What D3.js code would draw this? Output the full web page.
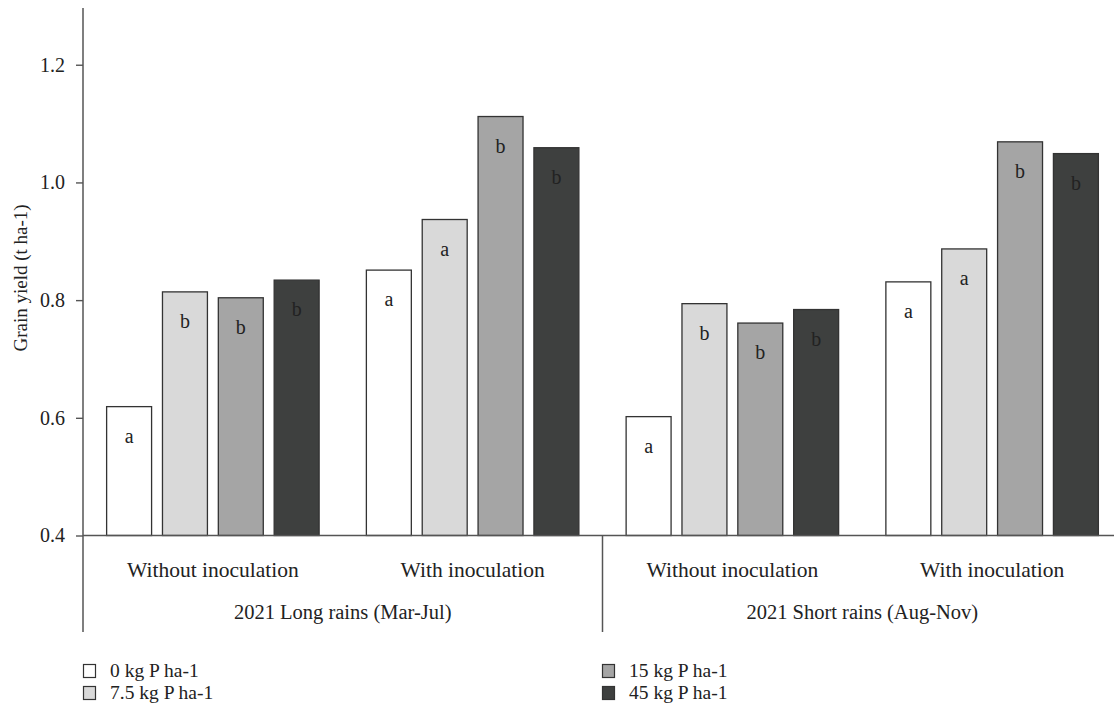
<!DOCTYPE html>
<html>
<head>
<meta charset="utf-8">
<script src="https://cdn.jsdelivr.net/npm/d3@7"></script>
<style>
  html, body { margin: 0; padding: 0; background: #fff; }
  svg { display: block; }
  text { font-family: "Liberation Serif", "Times New Roman", serif; fill: #222; }
</style>
</head>
<body>
<svg id="chart" width="1114" height="712"></svg>
<script>
// ---- data ----
const groups = ["Without inoculation", "With inoculation", "Without inoculation", "With inoculation"];
const seasons = ["2021 Long rains (Mar-Jul)", "2021 Short rains (Aug-Nov)"];
const seriesNames = ["0 kg P ha-1", "7.5 kg P ha-1", "15 kg P ha-1", "45 kg P ha-1"];
const p0   = [0.619, 0.851, 0.602, 0.831];
const p7_5 = [0.814, 0.937, 0.794, 0.887];
const p15  = [0.804, 1.112, 0.761, 1.069];
const p45  = [0.834, 1.059, 0.784, 1.049];
const letters0   = ["a", "a", "a", "a"];
const letters7_5 = ["b", "a", "b", "a"];
const letters15  = ["b", "b", "b", "b"];
const letters45  = ["b", "b", "b", "b"];
const yTicks = [0.4, 0.6, 0.8, 1.0, 1.2];
const yLabel = "Grain yield (t ha-1)";

const series = [p0, p7_5, p15, p45];
const letterSets = [letters0, letters7_5, letters15, letters45];
const colors = ["#ffffff", "#d9d9d9", "#a5a5a5", "#3e403f"];

const svg = d3.select("#chart");
const axisColor = "#555";

const y = d3.scaleLinear().domain([0.4, 1.3]).range([535.5, 5.9]);
const x0 = d3.scaleBand().domain(d3.range(groups.length)).range([83, 1122]).padding(0);
const x1 = d3.scaleBand().domain(d3.range(series.length)).range([0, x0.bandwidth()])
  .paddingInner(0.195).paddingOuter(0.423);

// bars
const cells = [];
groups.forEach((g, gi) => series.forEach((s, si) => cells.push({gi, si, v: s[gi], l: letterSets[si][gi]})));

const barG = svg.append("g");
barG.selectAll("rect").data(cells).join("rect")
  .attr("x", d => x0(d.gi) + x1(d.si))
  .attr("y", d => y(d.v))
  .attr("width", x1.bandwidth())
  .attr("height", d => y(0.4) - y(d.v))
  .attr("fill", d => colors[d.si])
  .attr("stroke", "#333")
  .attr("stroke-width", 1.3);

barG.selectAll("text").data(cells).join("text")
  .attr("x", d => x0(d.gi) + x1(d.si) + x1.bandwidth() / 2)
  .attr("y", d => y(d.v) + 36)
  .attr("text-anchor", "middle")
  .attr("font-size", 20)
  .text(d => d.l);

// y axis
const yAxis = svg.append("g").attr("transform", "translate(83,0)")
  .call(d3.axisLeft(y).tickValues(yTicks).tickFormat(d3.format(".1f")).tickSize(7).tickPadding(11));
yAxis.select(".domain").remove();
yAxis.selectAll(".tick line").attr("stroke", axisColor).attr("stroke-width", 1.4);
yAxis.selectAll(".tick text").attr("font-size", 20).attr("font-family", "Liberation Serif, serif").attr("fill", "#222");

// axis lines
svg.append("line").attr("x1", 83).attr("x2", 83).attr("y1", 8).attr("y2", 632)
  .attr("stroke", axisColor).attr("stroke-width", 1.5);
svg.append("line").attr("x1", 83).attr("x2", 1114).attr("y1", y(0.4)).attr("y2", y(0.4))
  .attr("stroke", axisColor).attr("stroke-width", 1.5);
svg.append("line").attr("x1", x0(2)).attr("x2", x0(2)).attr("y1", y(0.4)).attr("y2", 632)
  .attr("stroke", axisColor).attr("stroke-width", 1.5);

// group labels
svg.append("g").selectAll("text").data(groups).join("text")
  .attr("x", (d, i) => x0(i) + x0.bandwidth() / 2)
  .attr("y", 577)
  .attr("text-anchor", "middle")
  .attr("font-size", 21.5)
  .text(d => d);

// season labels
svg.append("g").selectAll("text").data(seasons).join("text")
  .attr("x", (d, i) => (x0(i * 2) + x0(i * 2 + 1) + x0.bandwidth()) / 2)
  .attr("y", 619)
  .attr("text-anchor", "middle")
  .attr("font-size", 20.5)
  .text(d => d);

// y label
svg.append("text")
  .attr("transform", "translate(27,278) rotate(-90)")
  .attr("text-anchor", "middle")
  .attr("font-size", 19)
  .text(yLabel);

// legend
const legPos = [[83, 664], [83, 686], [602, 664], [602, 686]];
const leg = svg.append("g").selectAll("g").data(seriesNames).join("g")
  .attr("transform", (d, i) => `translate(${legPos[i][0]},${legPos[i][1]})`);
leg.append("rect").attr("x", 0.5).attr("y", 0.5).attr("width", 12).attr("height", 13)
  .attr("fill", (d, i) => colors[i]).attr("stroke", "#333").attr("stroke-width", 1.2);
leg.append("text").attr("x", 27).attr("y", 13).attr("font-size", 19.5).text(d => d);
</script>
</body>
</html>
